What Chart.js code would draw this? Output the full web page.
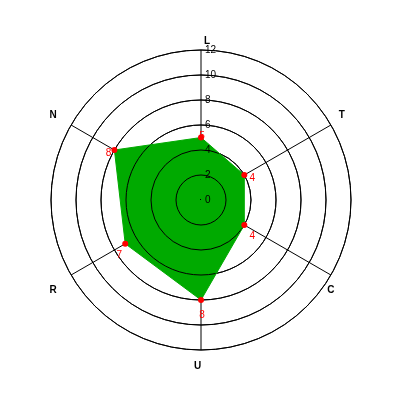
<!DOCTYPE html>
<html lang="en">
<head>
<meta charset="UTF-8">
<title>Radar</title>
<script src="https://cdn.jsdelivr.net/npm/chart.js"></script>
<style>
  body { margin: 0; background: #fff; }
  canvas { display: block; }
</style>
</head>
<body>
<canvas id="myChart" width="400" height="400"></canvas>
<script>
const axisLabels = ['L', 'T', 'C', 'U', 'R', 'N'];
const seriesValues = [5, 4, 4, 8, 7, 8];
const tickValues = [0, 2, 4, 6, 8, 10, 12];

// small pixel nudges for the axis letters (same order as axisLabels)
const letterNudge = [[6, 6], [-2, -2.5], [-13, 8], [-3.5, 1], [-5, 7.5], [-5, -2.5]];

const radarExtras = {
    id: 'radarExtras',
    // runs after the filler has painted the green area, before line + points
    beforeDatasetDraw(chart) {
        const r = chart.scales.r;
        const ctx = chart.ctx;
        ctx.save();
        ctx.strokeStyle = '#000';
        ctx.lineWidth = 1;
        tickValues.forEach(function (v) {
            if (v === 0) return;
            ctx.beginPath();
            ctx.arc(r.xCenter, r.yCenter, r.getDistanceFromCenterForValue(v), 0, Math.PI * 2);
            ctx.stroke();
        });
        ctx.restore();
    },
    afterDatasetsDraw(chart) {
        const r = chart.scales.r;
        const ctx = chart.ctx;
        ctx.save();

        // tick numbers up the L axis
        ctx.fillStyle = '#000';
        ctx.font = '10px "Liberation Sans", Arial, sans-serif';
        ctx.textAlign = 'left';
        ctx.textBaseline = 'middle';
        tickValues.forEach(function (v) {
            const d = r.getDistanceFromCenterForValue(v);
            ctx.fillText(String(v), r.xCenter + 4, r.yCenter - d);
        });
        ctx.fillRect(r.xCenter - 1, r.yCenter - 1, 1, 1);

        // axis letters
        ctx.font = 'bold 10px "Liberation Sans", Arial, sans-serif';
        ctx.textAlign = 'center';
        axisLabels.forEach(function (lab, i) {
            const p = r.getPointPosition(i, r.drawingArea + 15);
            ctx.fillText(lab, p.x + letterNudge[i][0], p.y + letterNudge[i][1]);
        });

        // red value labels next to each point
        ctx.fillStyle = '#ff0000';
        ctx.font = '10px "Liberation Sans", Arial, sans-serif';
        const meta = chart.getDatasetMeta(0);
        meta.data.forEach(function (pt, i) {
            const a = r.getIndexAngle(i);
            const x = pt.x + 8 * Math.sin(a) + 1;
            const y = pt.y - 8 * Math.cos(a) + 7;
            ctx.fillText(String(seriesValues[i]), x, y);
        });
        ctx.restore();
    }
};

const data = {
    labels: axisLabels,
    datasets: [{
        data: seriesValues,
        backgroundColor: '#00aa00',
        borderColor: '#00aa00',
        borderWidth: 1,
        fill: true,
        pointRadius: 3,
        pointBackgroundColor: '#ff0000',
        pointBorderColor: '#ff0000',
        pointBorderWidth: 0,
        pointHoverRadius: 3
    }]
};

const config = {
    type: 'radar',
    data: data,
    options: {
        responsive: false,
        animation: false,
        layout: { padding: { left: 51, right: 49, top: 50, bottom: 50 } },
        plugins: {
            legend: { display: false },
            tooltip: { enabled: false }
        },
        elements: { line: { tension: 0 } },
        scales: {
            r: {
                min: 0,
                max: 12,
                ticks: { stepSize: 2, display: false },
                grid: { circular: true, color: '#000', lineWidth: 1 },
                angleLines: { color: '#000', lineWidth: 1 },
                pointLabels: { display: false }
            }
        }
    },
    plugins: [radarExtras]
};

const myChart = new Chart(document.getElementById('myChart'), config);
</script>
</body>
</html>
